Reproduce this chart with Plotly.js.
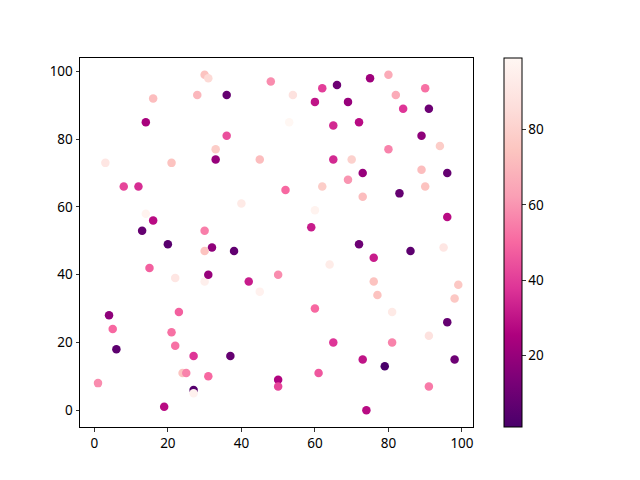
<!DOCTYPE html>
<html>
<head>
<meta charset="utf-8">
<script src="https://cdn.plot.ly/plotly-3.0.1.min.js"></script>
<style>html,body{margin:0;padding:0;background:#fff;}#chart{width:640px;height:480px;}</style>
</head>
<body>
<div id="chart"></div>
<script>
const xValues = [30,31,48,66,75,80,90,16,28,36,54,62,60,69,82,84,91,14,53,65,72,36,33,80,89,94,3,21,33,45,65,70,73,69,89,96,8,12,52,62,73,90,83,40,60,14,16,13,20,32,30,38,30,72,76,86,95,96,59,64,15,22,30,31,42,45,50,76,77,81,98,99,4,5,23,60,91,96,6,21,22,27,37,65,73,81,98,79,24,25,31,50,50,61,1,27,27,19,74,91];
const yValues = [99,98,97,96,98,99,95,92,93,93,93,95,91,91,93,89,89,85,85,84,85,81,77,77,81,78,73,73,74,74,74,74,70,68,71,70,66,66,65,66,63,66,64,61,59,58,56,53,49,48,47,47,53,49,45,47,48,57,54,43,42,39,38,40,38,35,40,38,34,29,33,37,28,24,29,30,22,26,18,23,19,16,16,20,15,20,15,13,11,11,10,9,7,11,8,6,5,1,0,7];
const colorValues = [74,84,58,10,22,66,52,72,70,8,88,40,30,20,66,38,10,24,99,35,28,44,78,56,18,78,90,74,20,72,35,80,20,60,72,8,42,36,50,78,72,74,8,92,97,97,28,8,5,18,74,7,55,10,32,6,90,28,32,93,48,90,95,20,32,96,58,74,74,92,76,76,18,50,48,50,88,8,6,52,52,38,8,38,30,56,10,1,74,56,50,26,42,46,58,4,96,28,28,54];
const tickVals = [20,40,60,80];

const rdpuR = [
  [0.0,'#49006a'],[0.125,'#7a0177'],[0.25,'#ae017e'],[0.375,'#dd3497'],
  [0.5,'#f768a1'],[0.625,'#fa9fb5'],[0.75,'#fcc5c0'],[0.875,'#fde0dd'],[1.0,'#fff7f3']
];
const fontSpec = {family:'Noto Sans, DejaVu Sans, sans-serif', size:13.5, color:'#000'};

const trace = {
  type:'scatter', mode:'markers', x:xValues, y:yValues,
  marker:{
    size:8.5, color:colorValues, colorscale:rdpuR, line:{width:0},
    colorbar:{
      x:1.078, xanchor:'left', xpad:0, y:0, yanchor:'bottom', ypad:0,
      len:1, lenmode:'fraction', thickness:18, thicknessmode:'pixels',
      outlinewidth:1, outlinecolor:'#000',
      tickvals:tickVals, ticks:'outside', ticklen:3.5, tickwidth:0.8, tickcolor:'#000',
      tickfont:fontSpec
    }
  },
  hoverinfo:'x+y'
};

const axisCommon = {
  showgrid:false, zeroline:false, showline:true, linecolor:'#000', linewidth:1, mirror:true,
  ticks:'outside', ticklen:3.5, tickwidth:0.8, tickcolor:'#000', tickfont:fontSpec
};

const layout = {
  width:640, height:480,
  margin:{l:80, r:167, t:58, b:53},
  paper_bgcolor:'#fff', plot_bgcolor:'#fff',
  showlegend:false,
  xaxis:Object.assign({}, axisCommon, {range:[-3.9,103], tickvals:[0,20,40,60,80,100]}),
  yaxis:Object.assign({}, axisCommon, {range:[-4.95,103.95], tickvals:[0,20,40,60,80,100]})
};

Plotly.newPlot('chart', [trace], layout, {displayModeBar:false, staticPlot:true});
</script>
</body>
</html>
